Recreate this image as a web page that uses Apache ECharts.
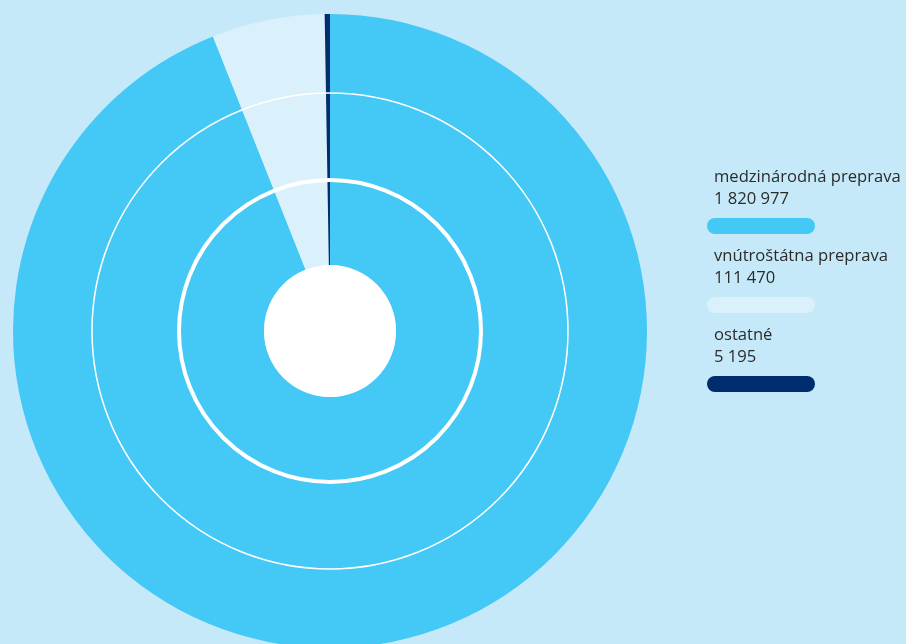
<!DOCTYPE html>
<html><head><meta charset="utf-8">
<script src="https://cdn.jsdelivr.net/npm/echarts@6/dist/echarts.min.js"></script>
<style>html,body{margin:0;padding:0;background:#C5E9F9;}#c{width:906px;height:644px;}</style>
</head><body><div id="c"></div>
<script>
const categories = ['medzinárodná preprava', 'vnútroštátna preprava', 'ostatné'];
const values = [1820977, 111470, 5195];
const colors = ['#44C8F5', '#DAF0FB', '#002D6E'];

function fmt(v){ return String(v).replace(/\B(?=(\d{3})+(?!\d))/g, ' '); }

const chart = echarts.init(document.getElementById('c'));
const cx = 330, cy = 331;
const graphics = [
  {type:'circle', shape:{cx:cx, cy:cy, r:238}, style:{fill:'none', stroke:'#fff', lineWidth:1.5}, z:100},
  {type:'circle', shape:{cx:cx, cy:cy, r:151}, style:{fill:'none', stroke:'#fff', lineWidth:4}, z:100},
  {type:'circle', shape:{cx:cx, cy:cy, r:66}, style:{fill:'#fff'}, z:100}
];
categories.forEach((name, i) => {
  const y0 = 166 + i * 79;
  graphics.push({type:'text', left:714, top:y0, style:{text:name + '\n' + fmt(values[i]), fill:'#2b2b2b', font:'16.6px "Open Sans"', lineHeight:22}, z:100});
  graphics.push({type:'rect', left:707, top:y0 + 52, shape:{width:108, height:16, r:8}, style:{fill:colors[i]}, z:100});
});
chart.setOption({
  backgroundColor:'#C5E9F9',
  animation:false,
  series:[{
    type:'pie',
    center:[cx, cy],
    radius:[66, 317],
    startAngle:90,
    clockwise:true,
    label:{show:false},
    labelLine:{show:false},
    emphasis:{disabled:true},
    silent:true,
    data: categories.map((n,i)=>({name:n, value:values[i], itemStyle:{color:colors[i]}}))
  }],
  graphic: graphics
});
</script></body></html>
